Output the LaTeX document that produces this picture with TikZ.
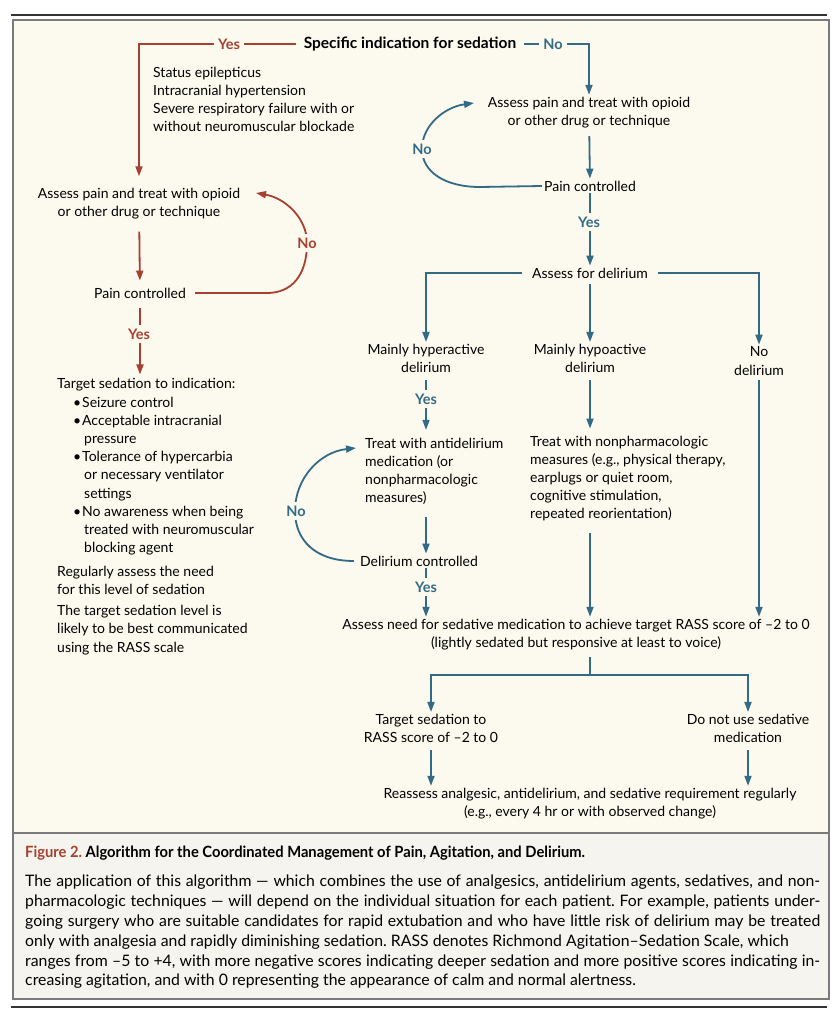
\documentclass[tikz,border=0pt]{standalone}
\usepackage{fontspec}
\setmainfont{Lato}
\newfontfamily\capfont[FakeStretch=0.95]{Lato}
\newfontfamily\capbodyfont[FakeStretch=1.0]{Lato}
\usepackage{xcolor}
\usetikzlibrary{arrows.meta, calc, positioning}
\definecolor{nejmred}{HTML}{A8402F}
\definecolor{nejmblue}{HTML}{336B87}
\definecolor{cream}{HTML}{FCF9EE}
\definecolor{capgrey}{HTML}{F6F4EF}
\definecolor{framegrey}{HTML}{7A7A7A}
\newcommand{\bul}{\hspace*{16pt}\makebox[9pt][l]{\textbullet}}
\newcommand{\cont}{\hspace*{27pt}}
\frenchspacing

\begin{document}
\begin{tikzpicture}[x=1pt, y=-1pt, font=\fontsize{14}{18.2}\selectfont]%{{{
        \useasboundingbox (0,0) rectangle (838,1024);

        \tikzstyle{rule} = [line width=1.5pt, black!80];
        \tikzstyle{box} = [line width=2pt, framegrey];
        \draw [rule] (11,15) -- (827,15);
        \draw [box, fill=cream] (13,20) rectangle (829,833);
        \draw [box, fill=capgrey] (13,833) rectangle (829,999);
        \draw [rule] (11,1007) -- (827,1007);

        \tikzstyle{t} = [inner sep=2pt, align=center];
        \tikzstyle{tl} = [inner sep=2pt, align=left, anchor=west];
        \tikzstyle{yn} = [inner sep=4pt, fill=cream, font=\fontsize{14.5}{18}\selectfont\bfseries];
        \tikzstyle{redline} = [nejmred, line width=1.8pt];
        \tikzstyle{blueline} = [nejmblue, line width=1.8pt];
        \tikzstyle{arr} = [-{Triangle[length=10pt, width=7pt]}];

        % top question
        \node [t, inner xsep=8pt, font=\fontsize{15.5}{18}\selectfont\bfseries] (spec) at (410,44) {Specific indication for sedation};

        % left branch (specific indication)
        \node [tl] (indic) at (151,99.5) {Status epilepticus\\Intracranial hypertension\\Severe respiratory failure with or\\without neuromuscular blockade};
        \node [t] (painl) at (139,204) {Assess pain and treat with opioid\\or other drug or technique};
        \node [t] (pcl) at (140,293) {Pain controlled};
        \node [tl] (target) at (55,467) {Target sedation to indication:\\
            \bul Seizure control\\
            \bul Acceptable intracranial\\
            \cont pressure\\
            \bul Tolerance of hypercarbia\\
            \cont or necessary ventilator\\
            \cont settings\\
            \bul No awareness when being\\
            \cont treated with neuromuscular\\
            \cont blocking agent};
        \node [tl] (regul) at (55,580) {Regularly assess the need\\for this level of sedation};
        \node [tl] (rass) at (55,630) {The target sedation level is\\likely to be best communicated\\using the RASS scale};

        \draw [redline, arr, shorten >=10pt] (spec.west) -| (painl.north);
        \node [yn, text=nejmred] (yes1) at (229,44) {Yes};
        \draw [redline, arr, shorten <=10pt, shorten >=5pt] (painl) -- (pcl);
        \draw [redline, arr, shorten <=7pt] (pcl.east) -- (267,293)
            .. controls (292,293) and (307,275) .. (307,243)
            .. controls (307,218) and (285,198) .. (256,193);
        \node [yn, text=nejmred] (no1) at (307,243) {No};
        \draw [redline, arr, shorten <=8pt, shorten >=2pt] (pcl) -- (target.north -| pcl);
        \node [yn, text=nejmred] (yes2) at (139,334) {Yes};

        % right branch (no specific indication)
        \node [t] (painr) at (589,112.5) {Assess pain and treat with opioid\\or other drug or technique};
        \node [t] (pcr) at (590,186) {Pain controlled};
        \node [t, inner xsep=10pt] (delir) at (590,273) {Assess for delirium};
        \node [t] (hyper) at (426,358.5) {Mainly hyperactive\\delirium};
        \node [t] (hypo) at (590,358.5) {Mainly hypoactive\\delirium};
        \node [t] (nodel) at (759,361) {No\\delirium};
        \node [tl] (treata) at (363,471.5) {Treat with antidelirium\\medication (or\\nonpharmacologic\\measures)};
        \node [t] (delc) at (419,561) {Delirium controlled};
        \node [tl] (treatb) at (528,478.5) {Treat with nonpharmacologic\\measures (e.g., physical therapy,\\earplugs or quiet room,\\cognitive stimulation,\\repeated reorientation)};
        \node [t] (need) at (576,634.5) {Assess need for sedative medication to achieve target RASS score of \textendash2 to 0\\(lightly sedated but responsive at least to voice)};
        \coordinate (split) at (590,675);
        \node [t] (tseda) at (431,728.5) {Target sedation to\\RASS score of \textendash2 to 0};
        \node [t] (nosed) at (748,728.5) {Do not use sedative\\medication};
        \node [t] (reass) at (590,803.5) {Reassess analgesic, antidelirium, and sedative requirement regularly\\(e.g., every 4 hr or with observed change)};

        \draw [blueline, arr] (spec.east) -| (painr.north);
        \node [yn, text=nejmblue] (no2) at (553,44) {No};
        \draw [blueline, arr, shorten <=6pt] (painr) -- (pcr);
        \draw [blueline, arr] (pcr.west) -- (480,187)
            .. controls (445,187) and (422,172) .. (422,149)
            .. controls (422,125) and (445,107) .. (474,103);
        \node [yn, text=nejmblue] (no3) at (422,149) {No};
        \draw [blueline, arr] (pcr) -- (delir);
        \node [yn, text=nejmblue] (yes3) at (589,222) {Yes};

        \draw [blueline, arr] (delir.west) -| (hyper.north);
        \draw [blueline, arr, shorten <=4pt] (delir) -- (hypo);
        \draw [blueline, arr] (delir.east) -| (nodel.north);

        \draw [blueline, arr, shorten <=5pt, shorten >=6pt] (hyper) -- (hyper |- treata.north);
        \node [yn, text=nejmblue] (yes4) at (426,399) {Yes};
        \draw [blueline, arr, shorten <=10pt] (treata.south -| hyper) -- (delc.north -| hyper);
        \draw [blueline, arr, shorten <=4pt] (delc.west)
            .. controls (315,561) and (295,540) .. (295,511)
            .. controls (295,478) and (320,452) .. (356,448);
        \node [yn, text=nejmblue] (no4) at (296,511) {No};
        \draw [blueline, arr] (delc.south -| hyper) -- (need.north -| hyper);
        \node [yn, text=nejmblue] (yes5) at (426,587) {Yes};

        \draw [blueline, arr, shorten <=5pt, shorten >=5pt] (hypo) -- (hypo |- treatb.north);
        \draw [blueline, arr, shorten <=10pt] (hypo |- treatb.south) -- (hypo |- need.north);
        \draw [blueline, arr, shorten <=3pt] (nodel) -- (nodel |- need.north);

        \draw [blueline, shorten <=5pt] (need.south -| split) -- (split);
        \draw [blueline, arr] (split) -| (tseda.north);
        \draw [blueline, arr] (split) -| (nosed.north);
        \draw [blueline, arr, shorten <=5pt] (tseda) -- (tseda |- reass.north);
        \draw [blueline, arr, shorten <=5pt] (nosed) -- (nosed |- reass.north);

        % caption
        \node [inner sep=2pt, anchor=west, font=\capfont\fontsize{15.5}{19.8}\selectfont\bfseries] (captitle) at (23,853)
            {\textcolor{nejmred}{Figure 2.} Algorithm for the Coordinated Management of Pain, Agitation, and Delirium.};
        \node [inner sep=2pt, anchor=north west, text width=795pt, align=justify, font=\capbodyfont\fontsize{15.8}{19.8}\selectfont] (capbody) at (23,873)
            {The application of this algorithm \textemdash\ which combines the use of analgesics, antidelirium agents, sedatives, and non-\linebreak
            pharmacologic techniques \textemdash\ will depend on the individual situation for each patient. For example, patients under-\linebreak
            going surgery who are suitable candidates for rapid extubation and who have little risk of delirium may be treated\linebreak
            only with analgesia and rapidly diminishing sedation. RASS denotes Richmond Agitation\textendash Sedation Scale, which\newline
            ranges from \textendash5 to +4, with more negative scores indicating deeper sedation and more positive scores indicating in-\linebreak
            creasing agitation, and with 0 representing the appearance of calm and normal alertness.};
    \end{tikzpicture}
\end{document}
